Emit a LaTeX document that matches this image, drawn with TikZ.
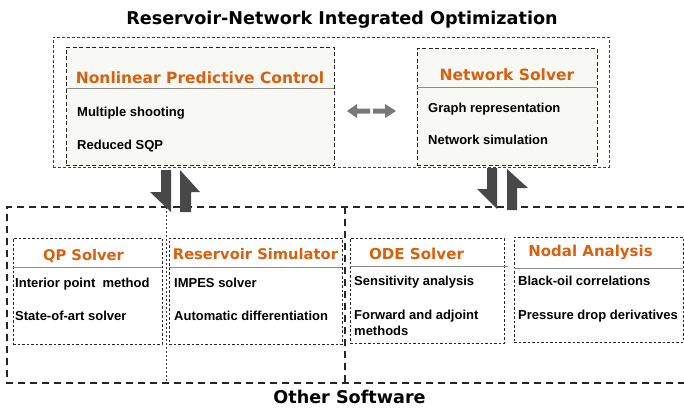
\documentclass[tikz,border=0pt]{standalone}
\usepackage{fontspec}
\setmainfont{Liberation Sans}
\newfontfamily\headfont{DejaVu Sans}
\definecolor{headorange}{RGB}{217,96,14}
\definecolor{panelfill}{RGB}{248,248,244}
\definecolor{blockgray}{RGB}{72,72,72}
\definecolor{linkgray}{RGB}{120,120,120}
\begin{document}
\begin{tikzpicture}[x=1pt,y=-1pt,
  outerbox/.style={draw=black!75, line width=0.8pt, dash pattern=on 3pt off 2pt, inner sep=0pt},
  panel/.style={draw=black!85, line width=0.9pt, dash pattern=on 4pt off 2.5pt, fill=panelfill, inner sep=0pt},
  subbox/.style={draw=black!85, line width=0.8pt, dash pattern=on 2.5pt off 2pt, inner sep=0pt},
  bigdash/.style={draw=black!85, line width=1.2pt, dash pattern=on 7pt off 5pt},
  sepline/.style={draw=black!45, line width=1pt},
  maintitle/.style={font=\headfont\bfseries\fontsize{17.6}{20}\selectfont, inner sep=0pt, anchor=base},
  boxtitle/.style={font=\headfont\bfseries\fontsize{#1}{18}\selectfont, text=headorange, inner sep=0pt, anchor=base},
  boxtitle/.default=15,
  item/.style={font=\bfseries\fontsize{13}{15}\selectfont, inner sep=0pt, anchor=base west},
  blockarrow/.style={fill=blockgray, draw=none},
  linkarrow/.style={fill=linkgray, draw=none}]
\useasboundingbox (0,0) rectangle (684,407);

% ---- integrated optimization layer ----
\node[maintitle] (title) at (342,24) {Reservoir-Network Integrated Optimization};
\node[outerbox, minimum width=556pt, minimum height=130pt] (top) at (331,102) {};

\node[panel, minimum width=268pt, minimum height=118pt] (npc) at (200,106) {};
\draw[sepline] (npc.west |- 0,88) -- (npc.east |- 0,88);
\node[boxtitle=15.5] (npct) at (200,83) {Nonlinear Predictive Control};
\node[item] (npc1) at (77,116) {Multiple shooting};
\node[item] (npc2) at (77,149) {Reduced SQP};

\node[panel, minimum width=180pt, minimum height=117pt] (net) at (507,106.5) {};
\draw[sepline] (net.west |- 0,87) -- (net.east |- 0,87);
\node[boxtitle=15.5] (nett) at (507,80) {Network Solver};
\node[item] (net1) at (428,112) {Graph representation};
\node[item] (net2) at (428,144) {Network simulation};

% two-way link between the controller and the network solver
\fill[linkarrow] (347,111) -- (357,104) -- (357,108.5) -- (370,108.5) -- (370,113.5) -- (357,113.5) -- (357,118) -- cycle;
\fill[linkarrow] (396,111) -- (385,104) -- (385,108.5) -- (373,108.5) -- (373,113.5) -- (385,113.5) -- (385,118) -- cycle;

% ---- other software layer ----
\draw[bigdash] (684,207) -- (7,207) -- (7,383) -- (684,383);
\draw[bigdash] (345,207) -- (345,383);
\draw[black!80, line width=0.8pt, dash pattern=on 2pt off 2pt] (166,203) -- (166,384);
\node[maintitle] (other) at (349.5,403) {Other Software};

\node[subbox, minimum width=149pt, minimum height=106pt] (qp) at (87.5,291) {};
\draw[sepline] (qp.west |- 0,267) -- (qp.east |- 0,267);
\node[boxtitle=14.7] (qpt) at (83.5,260) {QP Solver};
\node[item] (qp1) at (15,287) {Interior point~ method};
\node[item] (qp2) at (15,320) {State-of-art solver};

\node[subbox, minimum width=173pt, minimum height=106pt] (res) at (255.5,291) {};
\draw[sepline] (res.west |- 0,267) -- (res.east |- 0,267);
\node[boxtitle=14.7] (rest) at (255.5,259) {Reservoir Simulator};
\node[item] (res1) at (174,287) {IMPES solver};
\node[item] (res2) at (174,320) {Automatic differentiation};

\node[subbox, minimum width=154pt, minimum height=105pt] (ode) at (427,290.5) {};
\draw[sepline] (ode.west |- 0,266) -- ([xshift=4pt]ode.east |- 0,266);
\node[boxtitle=15.1] (odet) at (416.5,259) {ODE Solver};
\node[item] (ode1) at (354,285.5) {Sensitivity analysis};
\node[item] (ode2) at (354,319) {Forward and adjoint};
\node[item] (ode3) at (354,335) {methods};

\node[subbox, minimum width=169pt, minimum height=105pt] (nod) at (598.5,289.5) {};
\draw[sepline] (nod.west |- 0,268) -- (nod.east |- 0,268);
\node[boxtitle=15] (nodt) at (590.5,256.5) {Nodal Analysis};
\node[item] (nod1) at (518,285.5) {Black-oil correlations};
\node[item] (nod2) at (518,319) {Pressure drop derivatives};

% ---- exchange arrows between the layers ----
\fill[blockarrow] (161,170) -- (171,170) -- (171,212) -- (150,192) -- (161,192) -- cycle;
\fill[blockarrow] (180,212) -- (191,212) -- (191,192) -- (200,192) -- (180,170) -- cycle;
\fill[blockarrow] (487,168) -- (497,168) -- (497,209) -- (477,189) -- (487,189) -- cycle;
\fill[blockarrow] (507,210) -- (517,210) -- (517,188) -- (528,188) -- (507,169) -- cycle;
\end{tikzpicture}
\end{document}
